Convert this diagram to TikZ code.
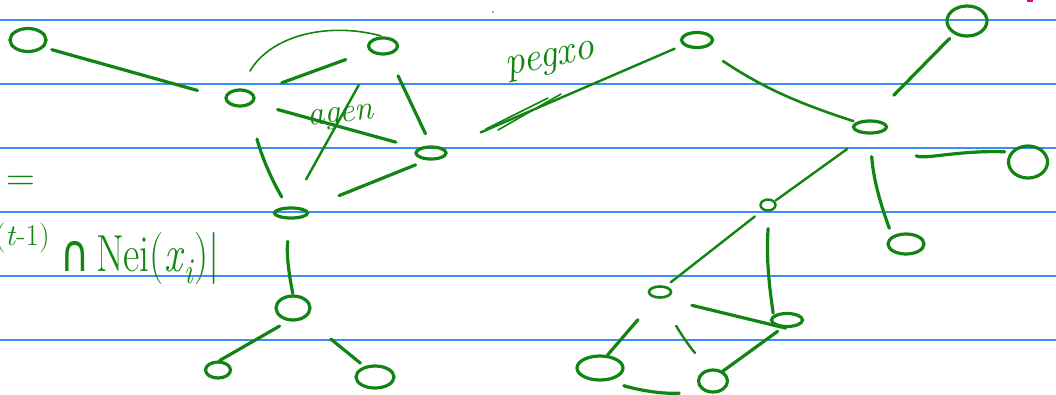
\documentclass[tikz,border=0pt]{standalone}
\usepackage{fontspec}
\newfontfamily\symfont{DejaVu Sans}
\usetikzlibrary{shapes.geometric}
\definecolor{ink}{RGB}{18,132,18}
\definecolor{paperblue}{RGB}{60,140,250}
\tikzset{
  vtx/.style={ellipse, draw=ink, line width=3.2pt, inner sep=0pt},
  edge/.style={draw=ink, line width=3.2pt, line cap=round},
  thinedge/.style={edge, line width=1.6pt},
  ruling/.style={draw=paperblue, line width=2pt},
  scrawl/.style={text=ink, inner sep=0pt},
}

\begin{document}
\begin{tikzpicture}[x=1pt, y=-1pt]
	\useasboundingbox (0,0) rectangle (1056,394);
	\clip (0,0) rectangle (1056,394);
	% ruled paper
	\foreach \k in {0,...,5}
		\draw[ruling] (0,19.5+64*\k) -- (1056,19.5+64*\k);
	% left graph
	\node[vtx, minimum width=36pt, minimum height=23pt] (A) at (28,40) {};
	\node[vtx, minimum width=28pt, minimum height=16pt] (B) at (240,98) {};
	\node[vtx, minimum width=29pt, minimum height=16pt] (C) at (383,46) {};
	\node[vtx, minimum width=30pt, minimum height=12pt] (D) at (431,153) {};
	\node[vtx, minimum width=33pt, minimum height=10pt] (E) at (291,213) {};
	\node[vtx, minimum width=34pt, minimum height=24pt] (F) at (293,308) {};
	\node[vtx, minimum width=25pt, minimum height=16pt] (G) at (218,370) {};
	\node[vtx, minimum width=38pt, minimum height=22pt] (H) at (375,377) {};
	% right graph
	\node[vtx, minimum width=31pt, minimum height=15pt] (I) at (697,40) {};
	\node[vtx, minimum width=40pt, minimum height=30pt] (J) at (967,21) {};
	\node[vtx, minimum width=33pt, minimum height=12pt] (K) at (870,127) {};
	\node[vtx, minimum width=39pt, minimum height=32pt] (L) at (1028,162) {};
	\node[vtx, minimum width=36pt, minimum height=20pt] (M) at (906,244) {};
	\node[vtx, line width=2.4pt, minimum width=15pt, minimum height=11pt] (N) at (768,205) {};
	\node[vtx, line width=2.6pt, minimum width=22pt, minimum height=11pt] (O) at (660,292) {};
	\node[vtx, minimum width=31pt, minimum height=13pt] (P) at (787,320) {};
	\node[vtx, minimum width=46pt, minimum height=24pt] (Q) at (600,368) {};
	\node[vtx, minimum width=29pt, minimum height=22pt] (R) at (713,381) {};
	% edges, left
	\draw[edge, shorten <=8pt, shorten >=28pt] (A.-25) -- (B.west);
	\draw[thinedge, shorten <=20pt, shorten >=2pt] (B.north) to[out=60, in=165] (C.north);
	\draw[edge, shorten <=30pt, shorten >=25pt] (B.20) -- (C.200);
	\draw[edge, shorten <=25pt, shorten >=23pt] (B.-20) -- (D.160);
	\draw[edge, line width=2.4pt, shorten <=35pt, shorten >=31pt] (C.-130) -- (E.north);
	\draw[edge, shorten <=23pt, shorten >=13pt] (C.-60) -- (D.north);
	\draw[edge, shorten <=34pt, shorten >=11pt] (B.-45) to[out=-75, in=120] (E.120);
	\draw[edge, shorten <=36pt, shorten >=12pt] (E.15) -- (D.-120);
	\draw[edge, shorten <=22pt, shorten >=1pt] (E.south) to[bend right=10] (F.north);
	\draw[edge, shorten <=10pt] (F.-110) -- (G.80);
	\draw[edge, shorten <=33pt, shorten >=5pt] (F.-40) -- (H.135);
	% the crossing edge
	\draw[edge, line width=2.4pt, shorten <=40pt, shorten >=9pt] (D.20) -- (I.-160);
	\draw[thinedge] (486,129) -- (548,98);
	\draw[thinedge] (498,130) -- (561,94);
	% edges, right
	\draw[edge, line width=2.6pt, shorten <=23pt, shorten >=3pt] (I.-50) to[bend right=8] (K.160);
	\draw[edge, shorten <=34pt, shorten >=6pt] (K.north) -- (J.-135);
	\draw[edge, shorten <=44pt, shorten >=6pt] (K.-40) to[out=-30, in=178] (L.150);
	\draw[edge, shorten <=22pt, shorten >=8pt] (K.south) to[bend right=8] (M.north west);
	\draw[edge, line width=2.4pt, shorten <=25pt, shorten >=1pt] (K.-110) -- (N.30);
	\draw[edge, line width=2.4pt, shorten <=10pt, shorten >=6pt] (N.-135) -- (O.45);
	\draw[edge, shorten <=17pt, shorten >=2pt] (N.-80) to[bend right=6] (P.160);
	\draw[edge, shorten <=29pt] (O.-60) -- (P.-100);
	\draw[edge, shorten <=28pt] (O.-120) -- (Q.60);
	\draw[edge, line width=2.4pt, shorten <=30pt, shorten >=21pt] (O.-60) to[bend right=8] (R.110);
	\draw[edge, shorten <=6pt] (P.-120) -- (R.45);
	\draw[edge, shorten <=17pt, shorten >=25pt] (Q.-60) to[bend right=10] (R.-130);
	% writing
	\node[scrawl, rotate=6, font=\fontsize{34}{34}\selectfont\itshape] (agen) at (341,118) {agen};
	\node[scrawl, rotate=12, font=\fontsize{40}{40}\selectfont\itshape] (pegxo) at (551,62) {pegxo};
	\node[scrawl, font=\fontsize{40}{40}\selectfont] (eq) at (21,183) {=};
	\node[scrawl, anchor=east, font=\fontsize{30}{30}\selectfont] (pow) at (50,238) {(\textit{t}-1)};
	\node[scrawl, font=\fontsize{40}{40}\selectfont] (nei) at (140,258)
		{\scalebox{1}[1.3]{{\symfont ∩}\,Nei(\textit{x}\textsubscript{\textit{i}})|}};
	\fill[ink] (493,12) circle (0.8);
	\draw[magenta, line width=2pt] (1027,1) -- (1033,1);
\end{tikzpicture}
\end{document}
